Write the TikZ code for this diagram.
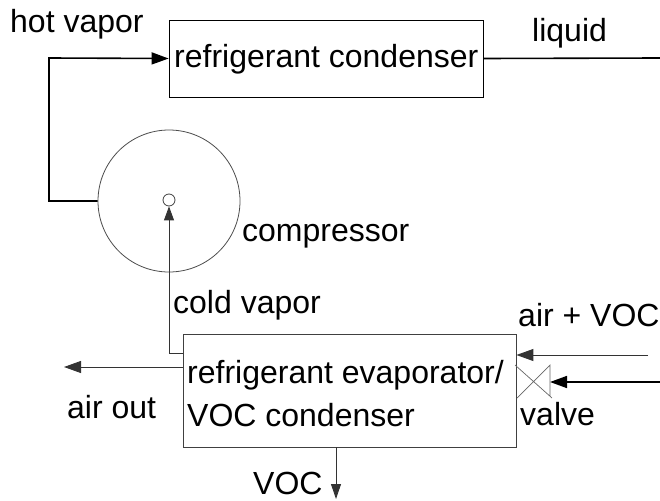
\documentclass[tikz,border=0pt]{standalone}
\usepackage{fontspec}
\setmainfont{Liberation Sans}
\usetikzlibrary{arrows.meta}
\tikzset{
 lbl/.style={inner sep=0pt,font=\fontsize{32}{36}\selectfont,anchor=base west},
 boxn/.style={draw=black,line width=0.8pt,inner sep=0pt},
 thin line/.style={draw=black!80,line width=0.9pt},
 thick line/.style={draw=black,line width=1.6pt},
 tip/.style={-{Triangle[length=17pt,width=12pt]}}
}
\begin{document}
\begin{tikzpicture}[x=1pt,y=-1pt]
\useasboundingbox (0,0) rectangle (660,500);
\node[boxn,minimum width=314pt,minimum height=77pt] (cond) at (326,58.5) {};
\node[boxn,draw=black!75,minimum width=333pt,minimum height=113pt] (evap) at (349.5,390.5) {};
\node[draw=black!70,line width=0.8pt,circle,minimum size=142pt,inner sep=0pt] (comp) at (169,201) {};
\node[draw=black!75,line width=0.8pt,circle,minimum size=12pt,inner sep=0pt] (port) at (169,200) {};
\coordinate (liq) at (660,58);
\coordinate (airin) at (648,355);
\coordinate (vin) at (660,382);
\coordinate (airout) at (64,367);
\coordinate (vocout) at (336,499);
\coordinate (hotc) at (49,201);
\coordinate (hott) at (49,58);
\coordinate (coldc) at (169,353);
\draw[thick line,tip] (comp.west) -- (hotc) -- (hott) -- (cond.west);
\draw[thick line] (cond.east) -- (liq);
\draw[thin line,{Triangle[length=14pt,width=10pt]}-] (port.south) -- (coldc) -- (evap.west |- coldc);
\draw[thin line,tip] (evap.west |- airout) -- (airout);
\draw[thin line,tip] (airin) -- (evap.east |- airin);
\draw[thick line,tip] (vin) -- (550,382);
\draw[draw=black!60,line width=0.7pt] (515,365) -- (552,398) (517,398) -- (550,365) -- (550,396);
\draw[thin line,{Triangle[length=15pt,width=10pt]}-] (vocout) -- (evap.south -| vocout);
\node[lbl] (t1) at (10,33) {hot vapor};
\node[lbl] (t2) at (174,68) {refrigerant condenser};
\node[lbl] (t3) at (532,42) {liquid};
\node[lbl] (t4) at (242,241) {compressor};
\node[lbl] (t5) at (173,313) {cold vapor};
\node[lbl] (t6) at (518,326) {air + VOC};
\node[lbl] (t7) at (187,383) {refrigerant evaporator/};
\node[lbl] (t8) at (187,426) {VOC condenser};
\node[lbl] (t9) at (67,418) {air out};
\node[lbl] (t10) at (520,425) {valve};
\node[lbl] (t11) at (253,494) {VOC};
\end{tikzpicture}
\end{document}
